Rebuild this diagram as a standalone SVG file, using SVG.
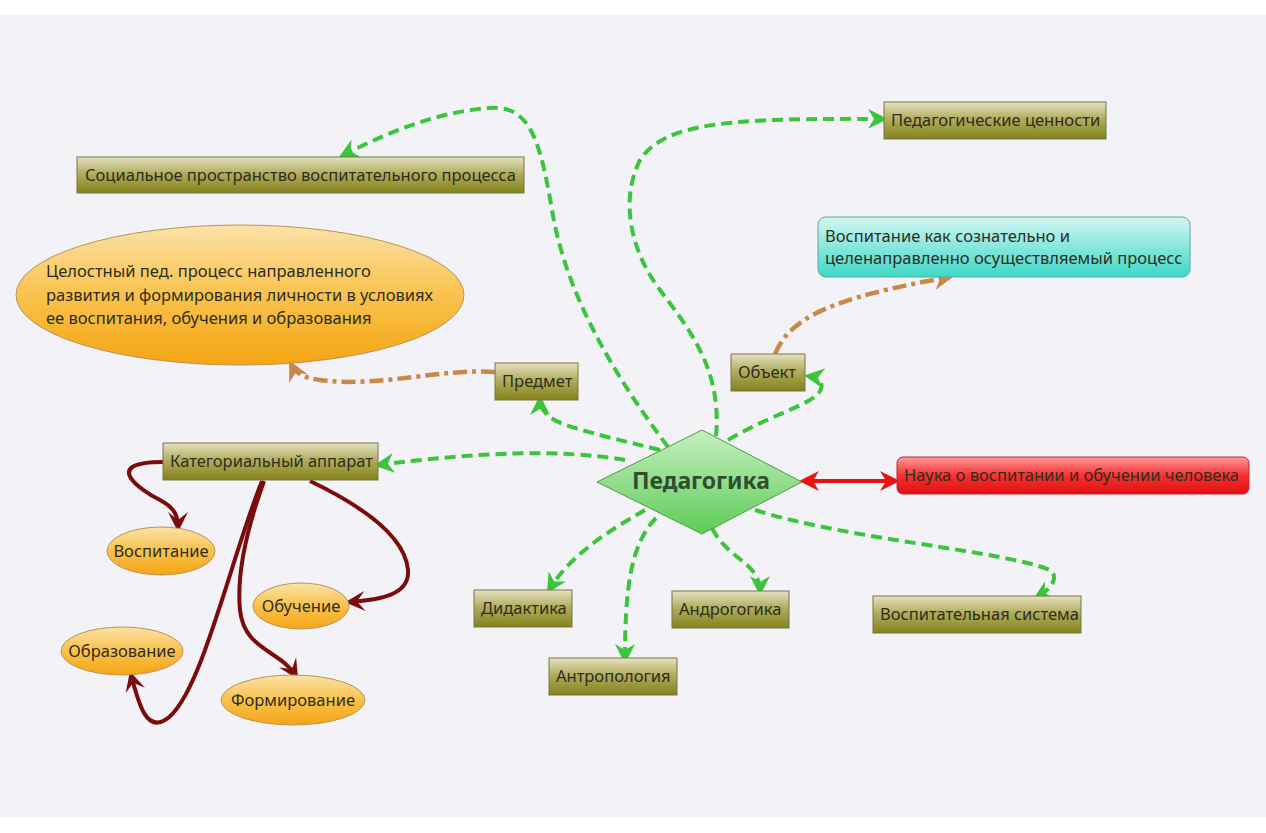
<svg xmlns="http://www.w3.org/2000/svg" width="1266" height="833" viewBox="0 0 1266 833">
<defs>
<linearGradient id="olive" x1="0" y1="0" x2="0" y2="1">
<stop offset="0" stop-color="#e6e2c2"/>
<stop offset="0.45" stop-color="#b2ae60"/>
<stop offset="1" stop-color="#84821a"/>
</linearGradient>
<linearGradient id="orange" x1="0" y1="0" x2="0" y2="1">
<stop offset="0" stop-color="#fbe2a8"/>
<stop offset="0.5" stop-color="#f9c24c"/>
<stop offset="1" stop-color="#f5a514"/>
</linearGradient>
<linearGradient id="cyan" x1="0" y1="0" x2="0" y2="1">
<stop offset="0" stop-color="#d2f7f2"/>
<stop offset="1" stop-color="#3cd8c6"/>
</linearGradient>
<linearGradient id="red" x1="0" y1="0" x2="0" y2="1">
<stop offset="0" stop-color="#fb9a9a"/>
<stop offset="0.5" stop-color="#f83030"/>
<stop offset="1" stop-color="#e01010"/>
</linearGradient>
<linearGradient id="green" x1="0" y1="0" x2="0" y2="1">
<stop offset="0" stop-color="#c4f0c0"/>
<stop offset="1" stop-color="#5ecc58"/>
</linearGradient>
<marker id="ag" viewBox="0 0 10 10" refX="8" refY="5" markerWidth="5" markerHeight="5" orient="auto" markerUnits="strokeWidth">
<path d="M0,0 L10,5 L0,10 L3,5 z" fill="#3cc43c"/>
</marker>
<marker id="ab" viewBox="0 0 10 10" refX="8" refY="5" markerWidth="4.5" markerHeight="4.5" orient="auto" markerUnits="strokeWidth">
<path d="M0,0 L10,5 L0,10 L3,5 z" fill="#c8884a"/>
</marker>
<marker id="ar" viewBox="0 0 10 10" refX="8" refY="5" markerWidth="5" markerHeight="5" orient="auto-start-reverse" markerUnits="strokeWidth">
<path d="M0,0 L10,5 L0,10 L3,5 z" fill="#e81414"/>
</marker>
<marker id="ad" viewBox="0 0 10 10" refX="8" refY="5" markerWidth="5" markerHeight="5" orient="auto" markerUnits="strokeWidth">
<path d="M0,0 L10,5 L0,10 L4,5 z" fill="#7a0c0c"/>
</marker>
</defs>
<style>
.box{fill:url(#olive);stroke:#77744a;stroke-width:1}
.t{font-family:"Noto Sans","Open Sans",sans-serif;font-size:16.5px;fill:#2e2e1e}
.oval{fill:url(#orange);stroke:#b8945a;stroke-width:1}
.g{fill:none;stroke:#3cc43c;stroke-width:4;stroke-dasharray:11 6;marker-end:url(#ag)}
.b{fill:none;stroke:#c8884a;stroke-width:4.5;stroke-dasharray:14 5 4 5;marker-end:url(#ab)}
.d{fill:none;stroke:#7a0c0c;stroke-width:4;marker-end:url(#ad)}
</style>
<rect x="0" y="0" width="1266" height="833" fill="#ffffff"/>
<rect x="0" y="15" width="1266" height="802" fill="#f3f3f7"/>

<g id="connectors">
<path class="g" d="M668,447 C610,370 565,290 552,210 C540,140 530,105 490,108 C440,111 385,133 342,156"/>
<path class="g" d="M716,436 C722,370 690,330 660,290 C630,250 620,200 640,160 C665,122 730,118 884,119"/>
<path class="g" d="M728,440 C765,418 800,408 816,396 C826,387 822,378 808,376"/>
<path class="g" d="M660,450 C620,440 585,432 563,424 C548,418 540,410 540,399"/>
<path class="g" d="M625,460 C560,449 480,452 378,465"/>
<path class="g" d="M645,510 C610,530 570,555 549,590"/>
<path class="g" d="M656,518 C630,545 625,590 625,660"/>
<path class="g" d="M712,528 C728,560 760,562 760,592"/>
<path class="g" d="M755,510 C850,540 1000,550 1050,570 C1060,578 1050,590 1036,598"/>
<path d="M803,481 L896,481" fill="none" stroke="#e81414" stroke-width="4" marker-start="url(#ar)" marker-end="url(#ar)"/>
<path class="b" d="M495,372 C440,368 380,388 320,380 C305,378 296,374 291,364"/>
<path class="b" d="M775,354 C790,318 830,298 950,277"/>
<path class="d" d="M163,462 C100,462 140,490 160,500 C175,508 178,516 178,528"/>
<path class="d" d="M310,481 C360,505 405,535 408,570 C410,595 380,600 349,602"/>
<path class="d" d="M264,481 C250,520 236,570 240,610 C244,650 280,650 296,676"/>
<path class="d" d="M262,481 C230,560 200,700 165,720 C145,732 138,700 131,675"/>
</g>

<g id="n-social"><rect class="box" x="77" y="157" width="447" height="36"/><text class="t" x="85" y="181">Социальное пространство воспитательного процесса</text></g>
<g id="n-values"><rect class="box" x="884" y="102" width="222" height="37"/><text class="t" x="891" y="126">Педагогические ценности</text></g>
<g id="n-vospitanie-process"><rect x="818" y="217" width="372" height="60" rx="8" fill="url(#cyan)" stroke="#5aa8a0"/><text class="t" x="825" y="242">Воспитание как сознательно и</text><text class="t" x="825" y="264">целенаправленно осуществляемый процесс</text></g>
<g id="n-holistic"><ellipse class="oval" cx="240" cy="295" rx="224" ry="70"/><text class="t" x="46" y="277">Целостный пед. процесс направленного</text><text class="t" x="46" y="301">развития и формирования личности в условиях</text><text class="t" x="46" y="324">ее воспитания, обучения и образования</text></g>
<g id="n-predmet"><rect class="box" x="495" y="363" width="83" height="37"/><text class="t" x="502" y="387">Предмет</text></g>
<g id="n-object"><rect class="box" x="731" y="354" width="74" height="37"/><text class="t" x="738" y="378">Объект</text></g>
<g id="n-category"><rect class="box" x="163" y="443" width="215" height="37"/><text class="t" x="170" y="467">Категориальный аппарат</text></g>
<g id="n-pedagogika"><polygon points="597,482 702,430 802,482 702,534" fill="url(#green)" stroke="#4f9a4a" stroke-width="1"/><text x="701" y="489" text-anchor="middle" font-family="'Noto Sans','Open Sans',sans-serif" font-size="23" font-weight="bold" fill="#2f4f2f">Педагогика</text></g>
<g id="n-science"><rect x="897" y="457" width="352" height="37" rx="6" fill="url(#red)" stroke="#b03030"/><text class="t" x="904" y="481">Наука о воспитании и обучении человека</text></g>
<g id="n-vosp"><ellipse class="oval" cx="161" cy="551" rx="54" ry="24"/><text class="t" x="161" y="557" text-anchor="middle">Воспитание</text></g>
<g id="n-obuch"><ellipse class="oval" cx="301" cy="606" rx="48" ry="23"/><text class="t" x="301" y="612" text-anchor="middle">Обучение</text></g>
<g id="n-obraz"><ellipse class="oval" cx="122" cy="651" rx="61" ry="24"/><text class="t" x="122" y="657" text-anchor="middle">Образование</text></g>
<g id="n-form"><ellipse class="oval" cx="293" cy="700" rx="72" ry="25"/><text class="t" x="293" y="706" text-anchor="middle">Формирование</text></g>
<g id="n-didaktika"><rect class="box" x="474" y="590" width="98" height="37"/><text class="t" x="481" y="614">Дидактика</text></g>
<g id="n-andro"><rect class="box" x="672" y="591" width="117" height="37"/><text class="t" x="679" y="615">Андрогогика</text></g>
<g id="n-antro"><rect class="box" x="549" y="658" width="128" height="37"/><text class="t" x="556" y="682">Антропология</text></g>
<g id="n-system"><rect class="box" x="873" y="596" width="208" height="37"/><text class="t" x="880" y="620">Воспитательная система</text></g>
</svg>
